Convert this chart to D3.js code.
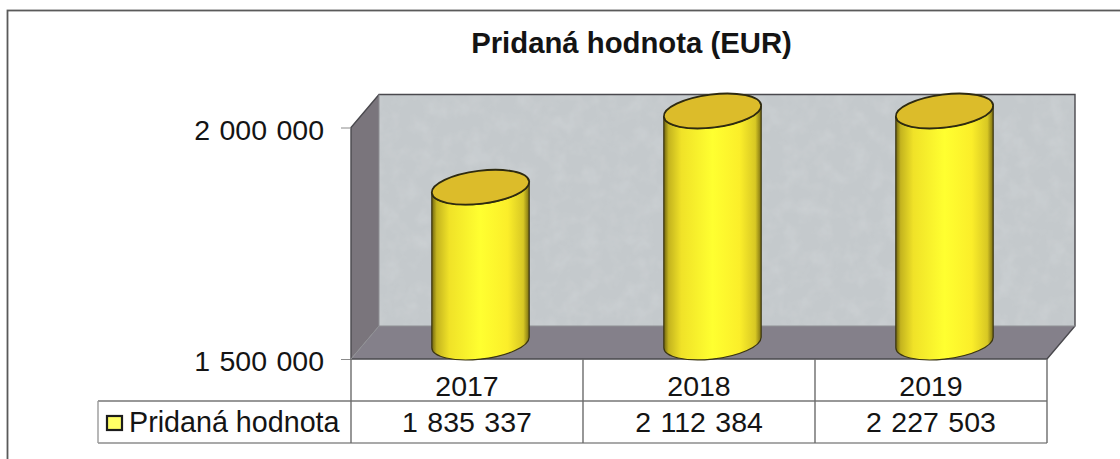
<!DOCTYPE html>
<html><head><meta charset="utf-8">
<script src="https://cdn.jsdelivr.net/npm/d3@7"></script>
<style>html,body{margin:0;padding:0;background:#fff;overflow:hidden}svg{display:block}text{font-family:"Liberation Sans",Arial,sans-serif;fill:#141414}</style>
</head><body><svg id="c" width="1120" height="459"></svg>
<script>
const chartTitle = "Pridaná hodnota (EUR)";
const seriesName = "Pridaná hodnota";
const years = ["2017","2018","2019"];
const values = [1835337,2112384,2227503];
const valueLabels = ["1 835 337","2 112 384","2 227 503"];
const axisTicks = [1500000,2000000];
const axisTickLabels = ["1 500 000","2 000 000"];

const svg = d3.select("#c");
const defs = svg.append("defs");
const grad = defs.append("linearGradient").attr("id","cyl");
[[0,"#6f6410"],[.05,"#c4b41f"],[.18,"#f0e228"],[.5,"#ffff30"],[.78,"#fbee2a"],[.94,"#d8c824"],[1,"#7d7012"]]
  .forEach(([o,c])=>grad.append("stop").attr("offset",o).attr("stop-color",c));
const f = defs.append("filter").attr("id","mottle").attr("x",0).attr("y",0).attr("width","100%").attr("height","100%");
f.append("feTurbulence").attr("type","fractalNoise").attr("baseFrequency",.06).attr("numOctaves",3).attr("seed",4);
f.append("feColorMatrix").attr("values","0 0 0 0 .85  0 0 0 0 .87  0 0 0 0 .88  .3 0 0 0 -.12");
f.append("feComposite").attr("in2","SourceGraphic").attr("operator","in");
f.append("feMerge").call(m=>{m.append("feMergeNode").attr("in","SourceGraphic");m.append("feMergeNode");});

// frame: the right and bottom edges fall outside the picture
svg.append("rect").attr("x",7.5).attr("y",10.5).attr("width",1130).attr("height",470)
  .attr("fill","#fff").attr("stroke","#5a5a5a").attr("stroke-width",1.8);
svg.append("text").attr("x",631.5).attr("y",53).attr("text-anchor","middle")
  .attr("font-size",29.3).attr("font-weight","bold").text(chartTitle);

const frontTop=127.5, frontBottom=359, dx=28, dy=-33;
const y = d3.scaleLinear().domain([axisTicks[0],axisTicks[1]]).range([frontBottom,frontTop]).clamp(true);
const x = d3.scaleBand().domain(years).range([351,1047]);
const xL=351,xR=1047;
const poly=(pts,fill,stroke)=>svg.append("polygon").attr("points",pts.map(p=>p.join(",")).join(" ")).attr("fill",fill).attr("stroke",stroke||"none");
// walls
const wall=[[xL+dx,frontTop+dy],[xR+dx,frontTop+dy],[xR+dx,frontBottom+dy],[xL+dx,frontBottom+dy]];
const floor=[[xL+dx,frontBottom+dy],[xR+dx,frontBottom+dy],[xR,frontBottom],[xL,frontBottom]];
const side=[[xL,frontTop],[xL+dx,frontTop+dy],[xL+dx,frontBottom+dy],[xL,frontBottom]];
poly(wall,"#c4c9cc").attr("filter","url(#mottle)");
poly(floor,"#84808a");
poly(side,"#7a757c");
svg.append("path").attr("d",`M${xL},${frontBottom}V${frontTop}L${xL+dx},${frontTop+dy}H${xR+dx}V${frontBottom+dy}L${xR},${frontBottom}Z`)
  .attr("fill","none").attr("stroke","#4a494e").attr("stroke-width",1.4);
svg.append("path").attr("d",`M${xL+dx},${frontTop+dy}V${frontBottom+dy}H${xR+dx}M${xL+dx},${frontBottom+dy}L${xL},${frontBottom}`)
  .attr("fill","none").attr("stroke","#8f9094").attr("stroke-width",1);

// axis
const axis = d3.axisLeft(y).tickValues(axisTicks).tickSize(10).tickPadding(17).tickFormat((d,i)=>axisTickLabels[i]);
const ag = svg.append("g").attr("transform",`translate(${xL},0)`).call(axis);
ag.select(".domain").remove();
ag.selectAll(".tick line").attr("stroke","#8a8a8a");
ag.selectAll("text").attr("font-size",28.5).attr("word-spacing",1.5).attr("dy","0.42em")
  .attr("font-family",'"Liberation Sans",Arial,sans-serif').attr("fill","#141414");

// cylinders
const rx=49, ry=16.5, tilt=-7*Math.PI/180, floorOffset=16.5;
const ellPt=(cx,cy,t)=>[cx+rx*Math.cos(t)*Math.cos(tilt)-ry*Math.sin(t)*Math.sin(tilt),
                        cy+rx*Math.cos(t)*Math.sin(tilt)+ry*Math.sin(t)*Math.cos(tilt)];
const deg=tilt*180/Math.PI;
years.forEach((yr,i)=>{
  const cx=x(yr)+x.bandwidth()/2+13.5;
  const base=frontBottom-floorOffset;
  const top=y(values[i])-floorOffset;
  const tR=Math.atan2(-ry*Math.sin(tilt),rx*Math.cos(tilt));
  const R=ellPt(cx,top,tR), L=ellPt(cx,top,tR+Math.PI);
  const bL=ellPt(cx,base,tR+Math.PI), bR=ellPt(cx,base,tR);
  svg.append("path")
    .attr("d",`M${L}L${bL}A${rx},${ry} ${deg} 0 0 ${bR}L${R}A${rx},${ry} ${deg} 0 1 ${L}Z`)
    .attr("fill","url(#cyl)").attr("stroke","#3b3510").attr("stroke-width",1.2);
  svg.append("ellipse").attr("cx",cx).attr("cy",top).attr("rx",rx).attr("ry",ry)
    .attr("transform",`rotate(${deg} ${cx} ${top})`)
    .attr("fill","#dcbc2a").attr("stroke","#2e2a10").attr("stroke-width",1.8);
});

// data table
const rowA=401, rowB=443, lx=98;
const gl=(x1,y1,x2,y2,c,w)=>svg.append("line").attr("x1",x1).attr("y1",y1).attr("x2",x2).attr("y2",y2).attr("stroke",c||"#767676").attr("stroke-width",w||1.4);
gl(lx,rowA,xR,rowA); gl(lx,rowB,xR,rowB,"#8c8c8c"); gl(lx,rowA,lx,rowB,"#9a9a9a");
[xL,...years.map(d=>x(d)+x.bandwidth())].forEach(px=>gl(px,frontBottom,px,rowB,"#6c6c6c"));
years.forEach((yr,i)=>{
  const c=x(yr)+x.bandwidth()/2;
  svg.append("text").attr("x",c).attr("y",396).attr("text-anchor","middle").attr("font-size",28.5).text(yr);
  svg.append("text").attr("x",c).attr("y",432).attr("text-anchor","middle").attr("font-size",28.5).attr("word-spacing",1.5).text(valueLabels[i]);
});
svg.append("rect").attr("x",107).attr("y",416).attr("width",15).attr("height",14).attr("fill","#ffff66").attr("stroke","#1c1c1c").attr("stroke-width",2.2);
svg.append("text").attr("x",129).attr("y",432).attr("font-size",28.7).text(seriesName);
</script></body></html>
